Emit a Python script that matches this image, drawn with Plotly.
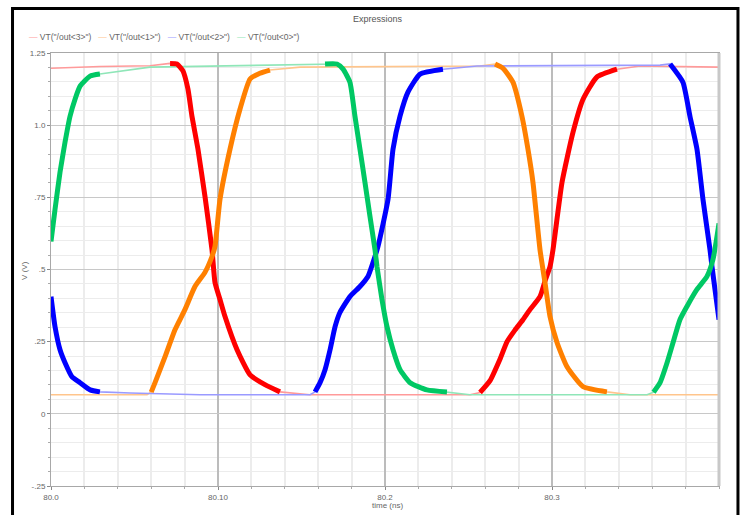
import plotly.graph_objects as go

# ---- data (time in ns, voltage in V) ----
red_t = [80.0, 80.0293, 80.0593, 80.0713, 80.0754, 80.079, 80.082, 80.0844, 80.088, 80.0922, 80.0964,
         80.0982, 80.1012, 80.1042, 80.1114, 80.1192, 80.1281, 80.1371, 80.155, 80.251, 80.2569,
         80.2629, 80.2689, 80.2731, 80.2778, 80.2826, 80.2868, 80.2928, 80.2958, 80.2988, 80.3006,
         80.306, 80.3126, 80.3186, 80.3269, 80.3389, 80.3527, 80.4]
red_v = [1.197, 1.203, 1.206, 1.214, 1.212, 1.188, 1.125, 1.031, 0.917, 0.753, 0.569,
         0.455, 0.396, 0.337, 0.222, 0.135, 0.101, 0.076, 0.066, 0.066, 0.074,
         0.115, 0.190, 0.250, 0.290, 0.326, 0.361, 0.406, 0.460, 0.510, 0.569,
         0.802, 0.976, 1.090, 1.167, 1.194, 1.205, 1.201]

orange_t = [80.0, 80.0575, 80.0600, 80.0623, 80.0683, 80.0743, 80.0802, 80.0862, 80.0922, 80.0964, 80.0982,
            80.1012, 80.1072, 80.1132, 80.1192, 80.1251, 80.1311, 80.1491, 80.2569, 80.2659, 80.2707,
            80.2766, 80.282, 80.2856, 80.2886, 80.2928, 80.2958, 80.2988, 80.303, 80.309, 80.3186,
            80.3329, 80.3467, 80.4]
orange_v = [0.066, 0.066, 0.075, 0.108, 0.198, 0.292, 0.361, 0.441, 0.490, 0.545, 0.580,
            0.743, 0.917, 1.056, 1.160, 1.180, 1.191, 1.201, 1.205, 1.212, 1.197,
            1.149, 1.031, 0.917, 0.802, 0.569, 0.455, 0.337, 0.247, 0.163, 0.094,
            0.076, 0.066, 0.066]

blue_t = [80.0, 80.0024, 80.0054, 80.0084, 80.0126, 80.0174, 80.0234, 80.0293, 80.0473, 80.0892,
          80.1551, 80.1581, 80.1611, 80.1641, 80.1671, 80.1701, 80.173, 80.179, 80.185, 80.1898,
          80.1928, 80.1958, 80.2018, 80.2048, 80.209, 80.2138, 80.221, 80.2347, 80.2551, 80.3647,
          80.3707, 80.3784, 80.3826, 80.3868, 80.3904, 80.3946, 80.3958, 80.3976, 80.4]
blue_v = [0.406, 0.302, 0.222, 0.177, 0.128, 0.108, 0.083, 0.076, 0.072, 0.066,
          0.066, 0.076, 0.108, 0.153, 0.222, 0.302, 0.351, 0.406, 0.441, 0.476,
          0.524, 0.580, 0.743, 0.917, 1.031, 1.115, 1.177, 1.194, 1.205, 1.208,
          1.212, 1.149, 1.031, 0.917, 0.743, 0.569, 0.510, 0.431, 0.326]

green_t = [80.0, 80.0024, 80.0054, 80.0084, 80.0114, 80.0144, 80.0174, 80.0234, 80.0293, 80.0593,
           80.1641, 80.1713, 80.1749, 80.179, 80.182, 80.185, 80.188, 80.191, 80.194, 80.1952,
           80.1982, 80.2012, 80.2048, 80.209, 80.215, 80.2251, 80.2371, 80.2509, 80.3569, 80.3608,
           80.3647, 80.3689, 80.3725, 80.3766, 80.3808, 80.3868, 80.3928, 80.3964, 80.4]
green_v = [0.597, 0.708, 0.837, 0.941, 1.031, 1.090, 1.135, 1.170, 1.177, 1.201,
           1.212, 1.212, 1.194, 1.149, 1.031, 0.917, 0.802, 0.684, 0.569, 0.510,
           0.396, 0.302, 0.222, 0.153, 0.108, 0.083, 0.076, 0.066, 0.066, 0.075,
           0.108, 0.177, 0.247, 0.326, 0.372, 0.431, 0.476, 0.535, 0.660]

series_names = ['VT("/out<3>")', 'VT("/out<1>")', 'VT("/out<2>")', 'VT("/out<0>")']
series_colors = ["#ff0000", "#ff8000", "#0000ff", "#00c864"]
series_light = ["#ff9a9a", "#ffc58c", "#9a9aff", "#8fe6b8"]

y_tickvals = [1.25, 1.0, 0.75, 0.5, 0.25, 0.0, -0.25]
y_ticktext = ["1.25", "1.0", ".75", ".5", ".25", "0", "-.25"]
x_tickvals = [80.0, 80.1, 80.2, 80.3]
x_ticktext = ["80.0", "80.10", "80.2", "80.3"]

series = [(red_t, red_v), (orange_t, orange_v), (blue_t, blue_v), (green_t, green_v)]

fig = go.Figure()
for (t, v), name, light in zip(series, series_names, series_light):
    # thin full waveform (rails)
    fig.add_trace(go.Scatter(x=t, y=v, mode="lines", name=name, showlegend=False,
                             line=dict(color=light, width=1.6), hoverinfo="skip"))
for (t, v), name, col in zip(series, series_names, series_colors):
    # thick transitions: points off the flat rails (overshoot peaks included)
    vt = [val if (0.073 < val < 1.199 or val >= 1.21) else None for val in v]
    fig.add_trace(go.Scatter(x=t, y=vt, mode="lines", name=name, showlegend=False,
                             line=dict(color=col, width=5, shape="spline", smoothing=0.5),
                             connectgaps=False))

FONT = "Liberation Sans"
TXT = "#666666"

fig.update_layout(
    width=748, height=515,
    margin=dict(l=51, r=29, t=53, b=29, autoexpand=False),
    paper_bgcolor="white", plot_bgcolor="white",
    showlegend=False,
    font=dict(family=FONT, size=8, color=TXT),
)
fig.update_xaxes(
    range=[80.0, 80.4], tickvals=x_tickvals, ticktext=x_ticktext, automargin=False,
    showgrid=True, gridcolor="#bcbcbc", gridwidth=1.5,
    showline=True, linecolor="#a8a8a8", linewidth=1, mirror=True,
    ticks="outside", ticklen=3, tickcolor="#888888",
    tickfont=dict(family=FONT, size=8, color=TXT),
    zeroline=False,
    minor=dict(dtick=0.02, showgrid=True, gridcolor="#ececec", gridwidth=1.5,
               ticks="outside", ticklen=2, tickcolor="#aaaaaa"),
)
fig.update_yaxes(
    range=[-0.25, 1.25], tickvals=y_tickvals, ticktext=y_ticktext, automargin=False,
    showgrid=True, gridcolor="#c8c8c8", gridwidth=1,
    showline=True, linecolor="#a8a8a8", linewidth=1, mirror=True,
    ticks="outside", ticklen=3, tickcolor="#888888",
    tickfont=dict(family=FONT, size=8, color=TXT),
    zeroline=False,
    minor=dict(dtick=0.05, showgrid=True, gridcolor="#ececec", gridwidth=1,
               ticks="outside", ticklen=2, tickcolor="#aaaaaa"),
)

# right frame edge (thicker light gray)
fig.add_shape(type="line", xref="paper", yref="paper", x0=1, x1=1, y0=0, y1=1,
              line=dict(color="#c8c8c8", width=3))
# outer black border
fig.add_shape(type="rect", xref="paper", yref="paper",
              x0=-0.0576, x1=1.0284, y0=-0.12, y1=1.1028,
              line=dict(color="black", width=3), fillcolor="rgba(0,0,0,0)", layer="above")

# title
fig.add_annotation(text="Expressions", xref="paper", yref="paper", x=0.4895, y=1.0785,
                   showarrow=False, xanchor="center", yanchor="middle",
                   font=dict(family=FONT, size=9, color="#555555"))

# legend as text row
def esc(s):
    return s.replace("<", "&lt;").replace(">", "&gt;")

legend_html = "&nbsp;&nbsp;&nbsp;".join(
    f'<span style="color:{lc}">—</span> {esc(n)}' for n, lc in zip(series_names, series_light)
)
fig.add_annotation(text=legend_html, xref="paper", yref="paper", x=-0.036, y=1.037,
                   showarrow=False, xanchor="left", yanchor="middle",
                   font=dict(family=FONT, size=8.5, color=TXT))

# axis titles
fig.add_annotation(text="time (ns)", xref="paper", yref="paper", x=0.503, y=-0.046,
                   showarrow=False, xanchor="center", yanchor="middle",
                   font=dict(family=FONT, size=8, color=TXT))
fig.add_annotation(text="V (V)", xref="paper", yref="paper", x=-0.039, y=0.499,
                   showarrow=False, xanchor="center", yanchor="middle", textangle=-90,
                   font=dict(family=FONT, size=8, color=TXT))

fig.write_html("out.html", config={"displayModeBar": False},
               post_script="document.body.style.margin='0px';")
